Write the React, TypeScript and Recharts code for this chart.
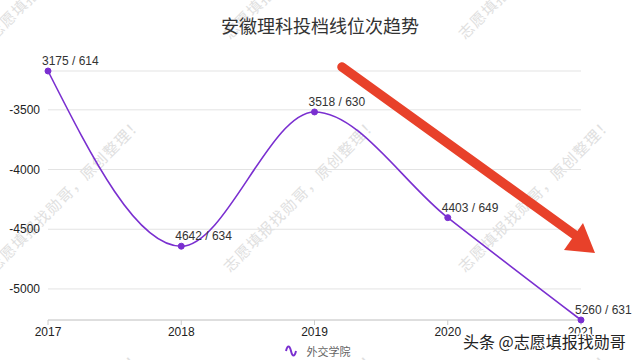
import { LineChart, Line, XAxis, YAxis, CartesianGrid, Legend, LabelList } from 'recharts';

const years = ['2017', '2018', '2019', '2020', '2021'];
const ranks = [3175, 4642, 3518, 4403, 5260];
const scores = [614, 634, 630, 649, 631];
const yTicks = [-5000, -4500, -4000, -3500];
const seriesName = '外交学院';

const data = years.map((year, i) => ({
  year,
  rank: -ranks[i],
  label: `${ranks[i]} / ${scores[i]}`,
}));

const PURPLE = '#7a2fd0';
const FONT = '"Liberation Sans", Arial, sans-serif';
const CJK = '"Noto Sans CJK SC", "Noto Sans", sans-serif';

const watermarkX = [-5, 230, 465];
const watermarkY = [40, 273, 506];

const PointLabel = (props: any) => {
  const { x, y, value } = props;
  return (
    <text x={x - 6} y={y - 6} fontSize={12} fill="#333" fontFamily={FONT} textAnchor="start">
      {value}
    </text>
  );
};

const LegendContent = () => (
  <div
    style={{
      display: 'flex',
      justifyContent: 'center',
      alignItems: 'center',
      height: 18,
      paddingLeft: 46,
    }}
  >
    <svg width={12} height={12} style={{ marginRight: 10 }}>
      <path d="M1,6 C2.5,0 4.5,0 6,6 C7.5,12 9.5,12 11,6" stroke={PURPLE} strokeWidth={2} fill="none" />
    </svg>
    <span style={{ fontSize: 11, color: '#666', fontFamily: CJK }}>{seriesName}</span>
  </div>
);

const App = () => {
  return (
    <div style={{ position: 'absolute', left: 0, top: 0, width: 640, height: 360, background: '#fff' }}>
      <svg width={640} height={360} style={{ position: 'absolute', left: 0, top: 0 }}>
        {watermarkX.map((wx) =>
          watermarkY.map((wy) => (
            <text
              key={`${wx}-${wy}`}
              x={wx}
              y={wy}
              fontSize={15}
              letterSpacing={1.2}
              fill="#e0e0e0"
              fontFamily={CJK}
              transform={`rotate(-45 ${wx} ${wy})`}
            >
              志愿填报找勋哥，原创整理！
            </text>
          ))
        )}
      </svg>
      <div style={{ position: 'absolute', left: 0, top: 0 }}>
        <LineChart width={640} height={360} data={data} margin={{ top: 71, right: 59, bottom: 0, left: 8 }}>
          <CartesianGrid vertical={false} stroke="#e3e3e3" />
          <XAxis
            dataKey="year"
            height={22}
            stroke="#cccccc"
            tickSize={5}
            tick={{ fontSize: 12, fill: '#222', fontFamily: FONT }}
            interval={0}
          />
          <YAxis
            type="number"
            width={40}
            domain={['dataMin', 'dataMax']}
            ticks={yTicks}
            axisLine={false}
            tickLine={false}
            tick={{ fontSize: 12, fill: '#222', fontFamily: FONT }}
          />
          <Legend verticalAlign="bottom" height={18} content={LegendContent} />
          <Line
            type="monotone"
            dataKey="rank"
            name={seriesName}
            stroke={PURPLE}
            strokeWidth={1.6}
            dot={{ r: 3, fill: PURPLE, stroke: PURPLE, strokeWidth: 1 }}
            isAnimationActive={false}
          >
            <LabelList dataKey="label" content={PointLabel} />
          </Line>
        </LineChart>
      </div>
      <svg width={640} height={360} style={{ position: 'absolute', left: 0, top: 0, pointerEvents: 'none' }}>
        <text x={320} y={33} fontSize={18} fill="#333" fontFamily={CJK} textAnchor="middle">
          安徽理科投档线位次趋势
        </text>
        <line x1={342} y1={67} x2={575} y2={235} stroke="#e8412a" strokeWidth={9.5} strokeLinecap="round" />
        <polygon points="583,223 595,253 564,250" fill="#e8412a" />
        <text
          x={463}
          y={348}
          fontSize={16}
          fill="#222"
          stroke="#fff"
          strokeWidth={3}
          paintOrder="stroke"
          fontFamily={CJK}
        >
          头条 @志愿填报找勋哥
        </text>
      </svg>
    </div>
  );
};

export default App;
